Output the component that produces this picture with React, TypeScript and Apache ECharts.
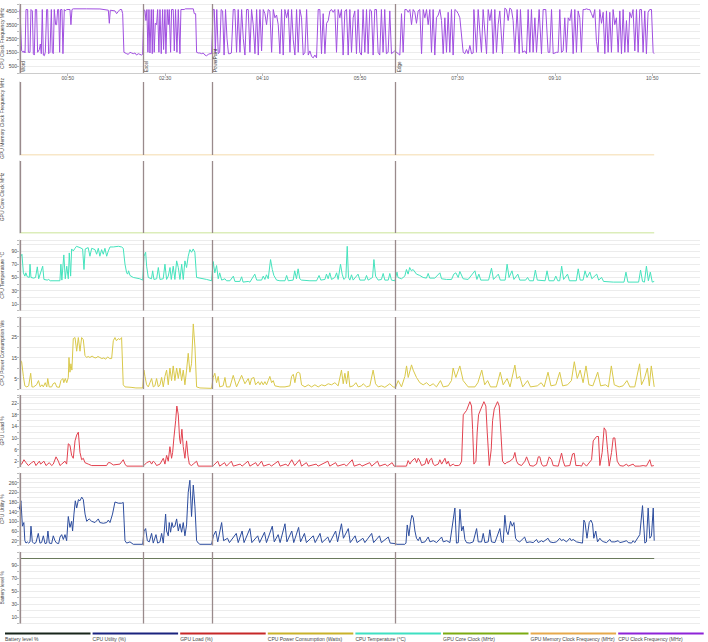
import { useEffect, useRef } from 'react';
import * as echarts from 'echarts';

type P = [number, number];

// ---- markers (application switches), x-axis ticks ----
const markerTimes = [1, 127.5, 198.6, 386.7];
const markerNames = ['Word', 'Excel', 'PowerPoint', 'Edge'];
const xTickValues = [50, 150, 250, 350, 450, 550, 650];

// ---- series data: [seconds, value] ----
const cpuClock: P[] = [
  [1,4600],[1.7,4600],[2.7,1600],[4.4,1500],[5.1,1600],[6.2,1450],[7.2,4600],[8.9,4600],[9.6,1500],[11.3,1500],[12.3,4600],[13.7,4500],[14.7,1400],[15.7,1300],[16.8,4600],[18.1,4600],[19.1,1500],[20.9,1700],[21.9,2100],[22.9,1400],[23.9,4600],[25,1300],[26,1250],[27,1500],[28.4,4600],[29.4,4600],[30.4,1400],[31.8,1500],[33.2,4600],[34.2,1500],[35.2,1400],[36.2,4600],[37.6,3500],[38.6,3500],[39.7,4600],[40.7,4600],[41.7,1500],[42.7,4600],[44.1,4600],[45.1,1400],[46.5,4600],[47.5,4500],[48.9,4600],[52.3,4600],[53.3,3500],[54.4,4600],[55.7,4650],[69.4,4650],[83.1,4640],[91.7,4550],[92.7,3600],[93.7,4550],[98.5,4500],[100.2,4300],[101.9,4450],[103.6,4600],[105.3,4600],[106.4,4300],[107.7,1500],[110.5,1400],[112.2,1350],[113.9,1500],[115.6,1450],[117.3,1400],[119,1450],[120.7,1300],[122.4,1400],[124.1,1350],[125.9,1300],[126.9,1350],
  [128.2,4600],[129.3,4500],[130.3,3800],[131.3,4600],[132.3,1500],[133.4,4600],[134.4,1450],[135.8,4600],[136.8,1400],[137.8,4600],[138.8,1500],[139.9,3600],[141.2,3500],[142.3,4600],[143.6,1500],[144.7,4600],[146,1400],[147.4,4600],[148.4,1700],[149.8,4600],[150.8,1400],[152.2,4600],[153.2,3500],[154.2,4600],[155.6,1500],[156.6,4600],[158.3,4600],[159.4,1600],[160.7,4600],[162.1,1500],[163.5,4600],[165.2,1400],[166.2,4600],[169.6,4600],[170.7,4650],[178.9,4650],[179.9,4300],[181.3,4300],[182.3,1500],[184,1450],[185.7,1450],[187.4,1400],[189.1,1450],[190.8,1300],[192.5,1250],[194.3,1350],[196,1400],[197.7,1400],
  [199.2,4600],[200.5,4600],[201.5,1500],[203,4600],[204.5,1400],[206,1500],[207.5,4600],[209,4500],[210.5,1300],[212,4600],[213.5,2500],[215,1400],[216.5,1400],[218,1450],[219.9,4600],[221.6,4600],[223.3,1500],[225,4600],[226.8,1500],[228.5,4600],[230.2,2500],[231.9,1300],[233.6,4600],[235.3,4600],[237,1500],[238.7,4600],[240.4,3500],[242.2,1400],[243.9,4600],[245.6,1300],[247.3,4600],[249,1600],[250.7,4600],[252.4,4300],[254.1,3500],[255.8,4600],[257.5,4500],[259.3,1500],[261,4600],[262.7,4000],[264.4,4200],[266.1,3500],[267.8,1400],[269.5,4600],[271.2,1300],[272.9,4600],[274.7,4000],[276.4,4600],[278.1,1500],[279.8,4600],[281.5,2400],[283.2,1300],[284.9,4600],[286.6,1500],[288.3,4600],[290,4000],[291.7,1300],[293.5,1500],[295.2,4600],[296.9,1300],[298.6,1600],[300.3,1200],[302,1100],[303.7,1300],[305.4,1100],[307.1,4600],[308.8,4600],[310.5,1400],[312.2,4300],[314,1400],[315.7,3600],[317.4,3800],[319.1,4500],[320.8,4600],[322.5,4400],[324.2,4600],[325.9,1500],[327.6,4600],[329.3,4000],[331,4600],[332.7,1300],[334.5,4500],[336.2,4600],[337.9,1300],[339.6,4600],[341.3,1500],[343,4000],[344.7,4500],[346.4,1400],[348.1,4600],[349.8,1500],[351.5,1300],[353.2,4600],[355,1500],[356.7,4600],[358.4,1400],[360.1,4600],[361.8,4500],[363.5,1300],[365.2,4600],[366.9,4600],[368.6,1500],[370.3,1300],[372,4600],[373.7,1500],[375.4,4600],[377.1,1400],[378.9,1500],[380.6,4500],[382.3,1400],[384,1500],[385.7,1600],
  [389.2,1400],[390.9,1300],[392.6,4300],[394.3,1500],[396.1,4600],[397.8,4600],[399.5,4400],[401.2,4600],[402.9,3500],[404.6,4600],[406.3,4400],[408,3600],[409.7,4500],[411.4,4600],[413.2,1400],[414.9,4600],[416.6,4000],[418.3,4600],[420,3500],[421.7,4600],[423.4,1500],[425.1,4600],[426.8,1300],[428.5,4000],[430.3,4200],[432,4600],[433.7,3800],[435.4,1400],[437.1,4000],[438.8,1500],[440.5,4400],[442.2,1500],[443.9,4600],[445.6,1300],[447.4,4600],[449.1,4500],[450.8,4300],[452.5,4000],[455.9,1500],[457.6,1400],[459.3,1700],[461,1400],[462.8,2000],[464.5,1400],[466.2,1450],[466.9,4600],[469.6,1500],[471.3,4600],[474.7,1500],[476.4,4600],[479.9,1400],[481.6,4600],[483.3,3800],[485,4600],[486.7,1400],[488.4,4600],[490.1,1500],[491.8,3500],[493.5,4500],[496.3,1400],[498.7,4700],[500.4,4600],[502.1,3800],[503.8,4700],[505.5,4600],[507.2,3800],[508.9,1500],[511.3,4600],[513.4,1400],[514.7,4600],[516.8,1500],[519.2,1600],[520.9,1400],[522.6,4600],[524.3,1500],[526,4600],[527.7,1500],[529.5,4000],[531.2,1500],[533.9,4600],[536.3,1400],[538,4600],[540.7,4600],[543.1,1500],[544.8,1500],[546.6,4600],[548.3,1400],[551.7,1500],[553.4,1500],[555.1,4600],[556.8,1500],[558.5,1600],[560.2,4000],[561.9,1500],[563.7,4000],[565.4,3800],[567.1,4600],[568.8,1400],[570.5,4600],[572.2,1500],[573.9,4500],[575.6,4000],[577.3,1500],[579,4600],[580.8,4600],[582.5,4650],[584.2,4600],[585.9,4600],[587.6,4300],[589.3,4000],[591,4600],[592.7,2300],[594.4,1500],[596.1,4600],[597.9,3600],[599.6,4400],[601.3,1400],[603,4500],[604.7,1500],[606.4,4400],[608.1,1500],[609.8,4600],[611.5,3500],[613.2,4000],[615,1500],[616.7,4500],[618.4,1400],[620.1,4600],[621.8,1500],[623.5,3800],[625.2,1500],[626.9,4400],[628.6,4000],[630.3,4600],[632.1,1600],[633.8,4600],[635.5,1500],[637.2,4600],[638.9,4600],[640.6,1500],[642.3,4500],[644,1400],[645.7,4400],[647.4,4600],[649.2,4600],[650.9,1500],[651.9,1400]
];

const gpuMemClock: P[] = [[1,0],[652,0]];
const gpuCoreClock: P[] = [[1,0],[652,0]];

const cpuTemp: P[] = [
  [1,80],[3,85],[4.5,57],[6,52],[7,57],[8.5,51],[10.6,50],[11.3,70],[12.3,50],[15,49],[17,50],[18.8,66],[20.2,48],[24.3,67],[25.6,47],[29,46],[30.5,47],[32,45],[42,45],[43,70],[44,46],[46,84],[47.5,48],[49,67],[50.6,48],[51.6,87],[53,52],[54,93],[55.7,90],[57.5,94],[59,97],[62.6,95],[65.3,93],[66.7,62],[68,93],[71,95],[72.8,82],[74.6,94],[78,92],[79.7,85],[81.4,94],[83,82],[84.8,92],[86.5,85],[88.2,94],[90,82],[91.7,90],[93.4,96],[96.8,96],[102,97],[105.3,96],[107,94],[108.8,70],[110.5,57],[111.5,55],[112.5,60],[113.9,53],[117.3,50],[124,48],[127,46],
  [128.3,82],[130,88],[131,67],[132.7,50],[136,48],[137.2,60],[138.5,47],[141.3,48],[143,65],[144.7,47],[148,48],[149.8,70],[151.5,47],[153.2,52],[155,65],[156.3,47],[158.3,67],[160,47],[161.8,75],[163.5,65],[165.2,47],[167,70],[168.6,47],[170.3,75],[172,65],[173.7,82],[175.4,92],[177.1,88],[178.8,93],[180.5,88],[182.3,50],[185.7,49],[192.6,47],[197.7,45],
  [199.3,74],[201,57],[202.8,68],[204.5,48],[206,57],[208,46],[211.4,48],[213,45],[216.5,45],[220,52],[221.6,44],[226.7,44],[228.5,51],[230,43],[235.3,44],[237,43],[242,55],[244,46],[249,46],[250.7,52],[252.4,47],[254,54],[255.8,48],[258.2,77],[260,62],[261.6,53],[264.4,46],[267.8,45],[273,45],[274.7,53],[276.4,45],[281.4,46],[283,60],[284.8,48],[286.5,63],[288.2,48],[290,46],[298.6,45],[305.4,45],[308,53],[309.8,46],[314,47],[315.6,55],[317.3,48],[319,57],[320.8,47],[324.2,50],[326,57],[327.6,47],[330,70],[331.7,55],[333.4,47],[335.5,50],[336.9,97],[338.2,50],[339.6,46],[341.3,54],[343,46],[348,55],[349.9,46],[355,46],[356.7,53],[358.4,46],[362.9,50],[364.3,77],[366,52],[368.7,46],[372,47],[373.8,56],[375.5,46],[379,46],[380.6,56],[382.3,46],[385.8,45],
  [388,58],[389,50],[392.6,48],[396,52],[397.7,62],[399.4,55],[401,65],[402.8,60],[404.5,62],[408,55],[411.4,53],[414.8,50],[418.2,49],[420,56],[421.6,49],[426.8,49],[432,57],[433.7,48],[438.8,47],[444,47],[446.3,55],[448.4,57],[450.8,50],[452.5,59],[455.9,48],[461,47],[468,60],[470,47],[472,55],[474,46],[482,46],[485,64],[487,47],[492,55],[494,46],[499,46],[501,70],[503,50],[506,60],[508,47],[512,55],[514,46],[520,46],[522,50],[524,45],[528,45],[530,61],[532,46],[540,45],[542,60],[544,45],[549,45],[551,52],[553,45],[555,45],[557,67],[559,47],[563,55],[565,45],[572,45],[574,63],[576,46],[579,46],[581,60],[583,50],[586,58],[588,48],[593,55],[595,46],[598,50],[600,44],[610,43],[621,43],[623,58],[625,43],[636,43],[638,61],[640,44],[642,43],[644,67],[646,45],[648,58],[650,43],[652,44]
];

const cpuPower: P[] = [
  [1,14],[2.7,13],[4.5,6],[6,1.5],[8,1],[9.9,1.5],[12,7.5],[13.3,1],[15,1],[18,2],[20,4],[21.8,1],[23.5,2],[25,1],[26.9,3],[28.5,1],[29.5,5],[31,1],[33.5,1],[35,2.5],[37,3],[38.7,1],[41.4,0.8],[43,4],[45,5],[46,3],[47.5,5],[49,3],[50.6,5.5],[51.3,15],[52.3,8],[53.3,12],[54.3,9],[55.7,24],[57.5,24.5],[59.2,18],[60.9,24.5],[62.6,18],[64.3,24.5],[66,23.5],[67.7,16],[69.4,15],[71,15.5],[72.8,15],[75,15.7],[77,15],[79,14.8],[81,15.5],[83,15],[85,14.5],[87,14.8],[89,14.2],[91,15.3],[93,14.5],[95.1,14.5],[96.8,23],[98.5,24.5],[100,23],[102,24],[103.6,23.5],[105.3,24.5],[107,2],[108.8,1],[115,0.8],[120,0.5],[127,0.5],
  [128.2,9],[129.3,6],[131,2],[132.7,1],[134.4,3],[136.1,5],[137.8,1],[139.5,1.5],[141.2,5],[143,1],[144.7,2],[146.4,5.5],[148.1,1],[149.8,6],[151.5,9],[153.2,2],[154.9,10],[156.6,4],[158.3,11],[160,4],[161.8,10],[163.5,5],[165.2,10],[166.9,4],[168.6,9],[170.3,2],[172,9],[173.7,17],[175.4,8],[177.1,12],[178.9,31],[180.6,20],[182.3,1],[185.7,0.5],[197.7,0.3],
  [199.3,5.5],[201,7.5],[202.8,3],[204.5,6],[206,1],[209.5,1.5],[211.4,5.5],[213,1],[216.5,1],[219.9,6.5],[223.3,1],[228.5,6.5],[231.9,2.5],[235.3,5],[237,2],[238.7,5],[241.1,5.5],[242.8,2],[245.6,3.5],[247.3,2],[249,3.5],[250.7,2],[252.4,3.5],[254.1,2],[255.8,4],[257.5,6],[259.3,3],[261,4],[262.7,1.5],[267.8,1],[273,1],[278.1,1.5],[279.8,6],[281.5,7],[283.2,3],[284.9,7.5],[286.6,8],[288.3,7.5],[290,2],[293.5,1],[296.9,2],[300.3,1],[303.7,2],[307.1,1],[310.5,2],[314,1.5],[317.4,2.5],[320.8,2],[324.2,3],[327.6,1.5],[331,9],[332.8,2.5],[334.5,7.5],[336.2,2.5],[337.9,8.5],[339.6,1],[343,1.5],[345.8,3],[348.2,1],[351.6,1.5],[353.3,2.5],[356.7,1],[360.1,1.5],[363.5,9],[366,2.5],[368.7,1],[372.1,1.5],[375.5,0.8],[380.6,2.5],[384,1],[386.5,0.8],
  [389.2,4],[392.6,1],[396.1,6],[397.8,11],[399.5,5.5],[402.9,11.5],[404.6,9],[408,5.5],[411.4,3],[414.9,2],[418.3,3],[421.7,1.5],[425.1,2.5],[428.5,1],[432.6,4],[435.4,1],[440.5,1.5],[443.9,4],[445.6,10],[448.4,5.5],[452.5,11],[455.9,4],[461,1],[468,1],[471,3],[475,9],[478,2],[481,4],[484,1],[490,1],[494,8],[497,2],[501,5],[504,1],[509,11.4],[511,5],[514,6],[517,1],[522,4],[525,1],[532,1.5],[536,3],[539,1],[543,8],[546,1.5],[551,2],[555,8],[558,1.5],[563,2],[567,4],[570,13],[573,5],[576,9],[579,3],[582,11],[585,2],[589,1.5],[594,8],[597,1.5],[602,2],[605,1],[608,11],[611,2],[616,1],[620,1.5],[624,4],[627,1],[632,1],[637,12],[639,2],[642,5],[645,10],[647,1.5],[649,11],[652,1]
];

const gpuLoad: P[] = [
  [1,0.5],[2.7,1],[5.1,2.5],[7.2,1.5],[9.6,0.5],[13,1.5],[15.4,2],[17.4,0.5],[20.9,2],[22.2,1],[25.6,2],[27.7,0.5],[31.1,1.5],[33.5,0.5],[35.2,1],[38,3.5],[40.4,2],[42.1,0.5],[43.8,1],[47.2,2],[48.9,1],[50.6,8],[52.3,7.5],[54,4],[55.7,3],[57.5,9],[59.2,11],[60.9,12],[62.6,5],[64.3,2.5],[66,3],[67.7,1.5],[71.1,1],[74.6,0.5],[89.9,0.5],[91.7,1.5],[93.4,1.5],[96.8,0.7],[103.6,1],[107,2.5],[108.8,1],[110.5,0.3],[127,0.3],
  [128.2,0.5],[131,1.5],[134.4,2],[136.1,1],[137.8,2],[139.5,1.5],[141.2,0.5],[144.7,1],[148.1,3],[149.8,1],[151.5,4],[153.2,2],[154.9,7],[156.6,3],[157.7,5],[159,10],[160.8,16],[162,21],[163.5,18],[164.8,10],[165.8,8],[167.2,13],[168.6,7],[170.3,3],[172,9],[173.4,4],[174.8,1],[177,0.5],[178.8,1],[182.3,2],[184,0.3],[197.7,0.3],
  [199.5,0.5],[204,2],[206,0.3],[211,1.5],[213,0.3],[218,2],[220,0.3],[227,1],[229,0.3],[235,2],[237,0.3],[243,1.5],[245,0.3],[249,2],[251,0.3],[257,1],[259,0.3],[266,2],[268,0.3],[274,1],[276,0.3],[280,2.5],[283,0.5],[288,2.5],[290,0.3],[295,1.5],[297,0.3],[305,1],[307,0.3],[317,2],[319,0.3],[325,1.5],[327,0.3],[334,1],[336,0.3],[342,2.5],[344,0.3],[350,1],[352,0.3],[360,1.5],[362,0.3],[368,2],[370,0.3],[376,1],[378,0.3],[383,1.5],[385,0.3],
  [387.5,0.3],[397.7,0.3],[399.4,2.2],[401.3,1],[403,2],[406.4,3],[408.1,1.5],[409.8,3],[411.5,2],[413.2,0.5],[416.7,1],[418.4,3],[420.1,1],[421.8,2.5],[423.5,3],[425.2,1],[426.9,0.5],[430.3,1],[432,2.5],[433.8,1],[437.2,3],[438.9,1],[440.6,2],[442.3,0.3],[445.7,1],[447.4,0.5],[450.9,0.5],[452.6,0.8],[454.3,2],[456,18],[459.4,19.5],[462.8,22.5],[464.5,21],[465.6,13],[466.9,1],[469,2],[470.3,12],[471.7,18],[474.1,20],[477.2,22.5],[479.2,21],[480.6,12],[482.7,0.5],[484.7,6],[486.1,16],[487.8,20],[491.2,22.5],[492.9,21],[494.6,12],[496.3,2],[498.7,1],[500.4,1.5],[503.9,2],[507.3,3],[509,5],[510.7,2],[512.4,1],[515.8,0.5],[519.3,2],[521,3.5],[522.7,2],[524.4,0.5],[527.8,0.3],[531.2,1],[533,3.5],[534.6,3.5],[536.4,1],[538.1,0.3],[541.5,0.5],[544.2,3.5],[546.6,2.5],[548.3,0.5],[553.5,0.3],[556.9,4.8],[558.6,2],[560.3,0.3],[565.4,0.5],[568.2,4.5],[569.9,4.7],[571.6,0.5],[575.7,0.5],[577.4,0.3],[579.1,1.5],[582.5,0.3],[587.7,2.5],[589.4,9],[592.8,10.5],[594.8,10.5],[596.2,0.5],[598.6,5],[600.6,13.5],[602.4,12.5],[604.1,6],[605.8,0.3],[608.2,5],[609.9,10],[611.6,10],[614,2],[616.7,0.5],[620.1,0.3],[623.6,1],[625.3,0.3],[630.4,1],[632.1,0.3],[637.2,0.3],[640.6,0.5],[644,0.3],[647.5,2.5],[649.2,0.3],[651.6,0.5]
];

const cpuUtil: P[] = [
  [0.5,150],[2,185],[3.5,80],[5,95],[6,20],[7.2,10],[8.5,15],[9.9,10],[11.3,15],[12.3,80],[13.7,15],[15.4,8],[17.4,12],[19.8,50],[21.5,10],[23.2,12],[25,40],[26.7,8],[28.4,10],[29.7,60],[31.1,10],[33.5,8],[35.2,40],[36.9,20],[38.6,10],[40.7,8],[42.1,35],[43.8,45],[45.5,25],[47.2,45],[48.9,20],[50.6,120],[52.3,75],[54,100],[55,60],[56.4,130],[57.8,185],[59.2,155],[61,190],[62.6,185],[64.4,200],[66,190],[67.8,130],[69.5,100],[72,110],[74.6,100],[78,95],[81.4,110],[83,95],[86.5,92],[90,95],[91.7,105],[93.4,95],[96,130],[98.5,180],[102,175],[105.3,175],[107,178],[108.8,20],[110.5,10],[113.9,15],[117.3,5],[127,5],
  [128.3,60],[130,70],[131.7,20],[133.7,15],[136.1,50],[137.8,10],[140.6,45],[142.3,10],[144.7,15],[146.4,50],[148.1,10],[150.5,130],[151.5,60],[153.2,40],[154.2,95],[155.6,55],[157,95],[158.3,75],[160,80],[161.8,110],[163.5,60],[165.2,90],[166.9,55],[168.6,95],[170.3,40],[172,85],[173.7,220],[175.4,270],[177.1,120],[178.9,250],[180.6,160],[182.3,20],[184,10],[185.7,5],[197.7,5],
  [199.5,40],[202,60],[204,15],[208,95],[210,20],[214,30],[216,12],[223,50],[225,12],[229,60],[231,12],[237,70],[239,12],[245,40],[247,12],[252,55],[254,12],[260,80],[262,15],[266,45],[268,12],[273,90],[275,15],[280,60],[282,12],[287,75],[289,15],[293,50],[295,12],[302,40],[304,12],[309,50],[311,12],[317,35],[319,12],[325,60],[327,15],[331,90],[333,30],[338,70],[340,12],[345,40],[347,12],[353,30],[355,12],[362,50],[364,12],[370,40],[372,12],[379,35],[381,10],[386,8],
  [388,5],[396,5],[397.2,10],[398.5,85],[400.2,40],[402,100],[403.3,125],[404.7,115],[406.4,60],[408,30],[409.8,20],[411.5,35],[413.2,12],[416.7,15],[420,35],[421.8,15],[425.2,20],[428.6,12],[433.8,35],[435.5,15],[439,20],[442.3,12],[447.4,155],[449,10],[450.9,12],[452.6,150],[454.3,60],[456,80],[457.7,25],[459.4,12],[462.8,10],[466.2,15],[469.7,70],[471.4,15],[474.8,15],[476.5,50],[478.2,12],[481.6,15],[483.3,65],[485,15],[488.5,12],[493.6,70],[495.3,15],[497,12],[498.7,125],[500.4,60],[502,45],[504.5,100],[506.3,80],[508,95],[509.7,30],[511.4,20],[514,15],[519,35],[521,12],[524.4,15],[527.8,12],[531.2,25],[533,12],[536.4,20],[538,15],[543,30],[545,15],[548.3,12],[551.7,15],[555,30],[556.9,20],[558.6,25],[562,15],[565.4,30],[567,20],[568.8,25],[572.3,15],[575.7,12],[578.4,10],[579.8,105],[581,95],[583,30],[585.3,95],[587,105],[588.7,90],[590,30],[592,60],[593.8,15],[596.2,30],[598,20],[600.3,15],[603,12],[606.5,25],[608,15],[611.6,15],[615,20],[616.7,12],[620,15],[623.6,20],[625.3,12],[628.7,10],[630.4,20],[632,12],[637.2,45],[640,165],[642.4,10],[644,15],[645.8,155],[647.5,30],[649.2,40],[651,155],[652,20]
];

const battery: P[] = [[1,100],[652,100]];

// ---- panels, top to bottom ----
const panelTitles = ['CPU Clock Frequency MHz', 'GPU Memory Clock Frequency MHz', 'GPU Core Clock MHz', 'CPU Temperature °C', 'CPU Power Consumption Ws', 'GPU Load %', 'CPU Utility %', 'Battery level %'];
const panelData = [cpuClock, gpuMemClock, gpuCoreClock, cpuTemp, cpuPower, gpuLoad, cpuUtil, battery];
const panelMax = [5000, 1, 1, 106.5, 34.3, 24.8, 300, 110];
const panelInterval = [500, 1, 1, 10, 5, 2, 20, 10];
const panelLineColors = ['#a04fe0', '#f0cf90', '#b8db74', '#45e3bd', '#d9c84a', '#e2424f', '#2d4d9e', '#6b7a5c'];

// ---- legend ----
const legendNames = ['Battery level %', 'CPU Utility (%)', 'GPU Load (%)', 'CPU Power Consumption (Watts)', 'CPU Temperature (°C)', 'GPU Core Clock (MHz)', 'GPU Memory Clock Frequency (MHz)', 'CPU Clock Frequency (MHz)'];
const legendColors = ['#17251a', '#1a237e', '#c62828', '#c9b22a', '#3ee0c2', '#7cab12', '#e6a94c', '#8e24d8'];

const gridTops = [4, 82, 161, 240, 317, 395, 473, 552];
const gridHeights = [69, 73, 72, 70.6, 72, 72, 72.5, 71.5];

function mmss(v: number): string {
  const m = Math.floor(v / 60);
  const s = Math.round(v % 60);
  return String(m).padStart(2, '0') + ':' + String(s).padStart(2, '0');
}

export default function App() {
  const ref = useRef<HTMLDivElement>(null);
  useEffect(() => {
    document.body.style.margin = '0';
    if (!ref.current) return;
    const chart = echarts.init(ref.current, undefined, { renderer: 'svg' });
    const font = 'Liberation Sans, Arial, sans-serif';
    const n = panelTitles.length;
    const grids = [];
    const xAxes = [];
    const yAxes = [];
    const series = [];
    for (let i = 0; i < n; i++) {
      const hasLabels = panelMax[i] > 1;
      const iv = panelInterval[i];
      const mx = panelMax[i];
      grids.push({ left: 19, right: 8, top: gridTops[i], height: gridHeights[i], containLabel: false, outerBoundsMode: 'none' });
      xAxes.push({
        gridIndex: i, type: 'value', min: 0, max: 699, show: i === 0,
        axisLine: { show: true, lineStyle: { color: '#cccccc', width: 1 } },
        axisTick: { show: true, customValues: xTickValues, length: 3, lineStyle: { color: '#bbbbbb' } },
        axisLabel: { show: true, customValues: xTickValues, formatter: (v: number) => mmss(v), fontSize: 5, color: '#555', margin: 2, fontFamily: font },
        splitLine: { show: false },
      });
      yAxes.push({
        gridIndex: i, type: 'value', min: 0, max: mx, interval: iv,
        name: panelTitles[i], nameLocation: 'middle', nameGap: 15, nameMoveOverlap: false,
        nameTextStyle: { fontSize: 5, color: '#444', fontFamily: font },
        axisLine: { show: true, lineStyle: { color: '#d8d8d8' } },
        axisTick: { show: hasLabels, length: 2, lineStyle: { color: '#bbbbbb' } },
        axisLabel: {
          show: hasLabels, fontSize: 5, color: '#4a4a4a', margin: 2, fontFamily: font,
          formatter: (v: number) => (v < mx - 1e-6 && Math.abs((v % (2 * iv)) - iv) < 1e-6 ? String(v) : ''),
        },
        splitLine: { show: hasLabels, lineStyle: { color: '#ececec', width: 1 } },
      });
      series.push({
        type: 'line', name: panelTitles[i], xAxisIndex: i, yAxisIndex: i,
        data: panelData[i], symbol: 'none', showSymbol: false,
        lineStyle: { color: panelLineColors[i], width: 1 },
        itemStyle: { color: panelLineColors[i] },
        markLine: {
          silent: true, symbol: ['none', 'none'], animation: false,
          lineStyle: { color: '#9a8a8c', width: 1.3, type: 'solid' },
          label: i === 0
            ? { show: true, position: 'insideStartBottom', formatter: '{b}', fontSize: 4.5, color: '#333', distance: 1, fontFamily: font }
            : { show: false },
          data: markerTimes.map((t, k) => ({ xAxis: t, name: markerNames[k] })),
        },
      });
    }
    const graphic: any[] = [];
    legendNames.forEach((nm, i) => {
      const x = 5 + i * 87.6;
      graphic.push({ type: 'rect', shape: { x, y: 632.5, width: 85.5, height: 2 }, style: { fill: legendColors[i] } });
      graphic.push({ type: 'text', x, y: 636, style: { text: nm, fontSize: 5, fill: '#444', fontFamily: font } });
    });
    chart.setOption({
      animation: false,
      backgroundColor: '#ffffff',
      grid: grids,
      xAxis: xAxes,
      yAxis: yAxes,
      series,
      graphic,
    });
    return () => chart.dispose();
  }, []);
  return <div ref={ref} style={{ width: 708, height: 642 }} />;
}
